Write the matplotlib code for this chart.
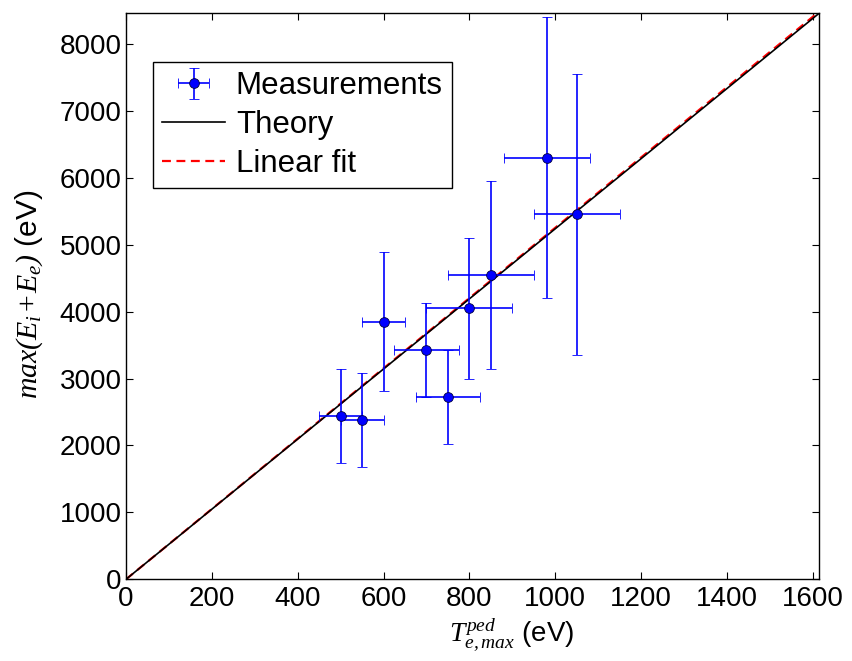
import matplotlib
matplotlib.use("Agg")
import matplotlib.pyplot as plt
import numpy as np

# Data
T_ped = [500, 550, 600, 700, 750, 800, 850, 980, 1050]
T_err = [50, 50, 50, 75, 75, 100, 100, 100, 100]
E_max = [2440, 2380, 3850, 3430, 2720, 4050, 4550, 6300, 5460]
E_err = [700, 700, 1040, 700, 700, 1050, 1400, 2100, 2100]
theory_slope = 5.24
fit_slope = 5.255
x_max = 1615
y_max = 8460
xticks = [0, 200, 400, 600, 800, 1000, 1200, 1400, 1600]
yticks = [0, 1000, 2000, 3000, 4000, 5000, 6000, 7000, 8000]

plt.rcParams['font.family'] = ['Liberation Sans', 'DejaVu Sans']
plt.rcParams['mathtext.fontset'] = 'custom'
plt.rcParams['mathtext.rm'] = 'Liberation Serif:italic'
plt.rcParams['mathtext.it'] = 'Liberation Serif:italic'
plt.rcParams['mathtext.bf'] = 'Liberation Serif:bold'

fig = plt.figure(figsize=(8.53, 6.61), dpi=100)
ax = fig.add_axes([0.1477, 0.1236, 0.8128, 0.8563])

xl = np.array([0, x_max])
ax.plot(xl, fit_slope * xl, color='red', ls=(0, (4, 2.5)), lw=1.6,
        label='Linear fit', zorder=2)
ax.plot(xl, theory_slope * xl, 'k-', lw=1.2, label='Theory', zorder=3)
ax.errorbar(T_ped, E_max, xerr=T_err, yerr=E_err, fmt='o', color='blue',
            ecolor='blue', elinewidth=1.2, capsize=3.5, capthick=1.2,
            markersize=7, mec='#000040', mew=0.6, label='Measurements', zorder=4)

ax.set_xlim(0, x_max)
ax.set_ylim(0, y_max)
ax.set_xticks(xticks)
ax.set_yticks(yticks)
ax.tick_params(direction='in', length=5, width=0.8, labelsize=20,
               top=True, right=True, pad=3)
ax.tick_params(axis='x', pad=5)
for s in ax.spines.values():
    s.set_linewidth(1.0)

ax.set_xlabel(r'$T_{e,max}^{ped}$ (eV)', fontsize=20)
ax.xaxis.set_label_coords(0.556, -0.066)
ax.set_ylabel(r'$max(E_i\!+\!E_e)$ (eV)', fontsize=21.5)
ax.yaxis.set_label_coords(-0.117, 0.503)

handles, labels = ax.get_legend_handles_labels()
order = [2, 1, 0]
leg = ax.legend([handles[i] for i in order], [labels[i] for i in order],
                loc='upper left', bbox_to_anchor=(0.039, 0.914), fontsize=22.5,
                fancybox=False, edgecolor='k', framealpha=1,
                handlelength=2.0, borderpad=0.3, labelspacing=0.28,
                handletextpad=0.35, borderaxespad=0.0)
leg.get_frame().set_linewidth(1.0)

fig.savefig('out.png', dpi=100)
